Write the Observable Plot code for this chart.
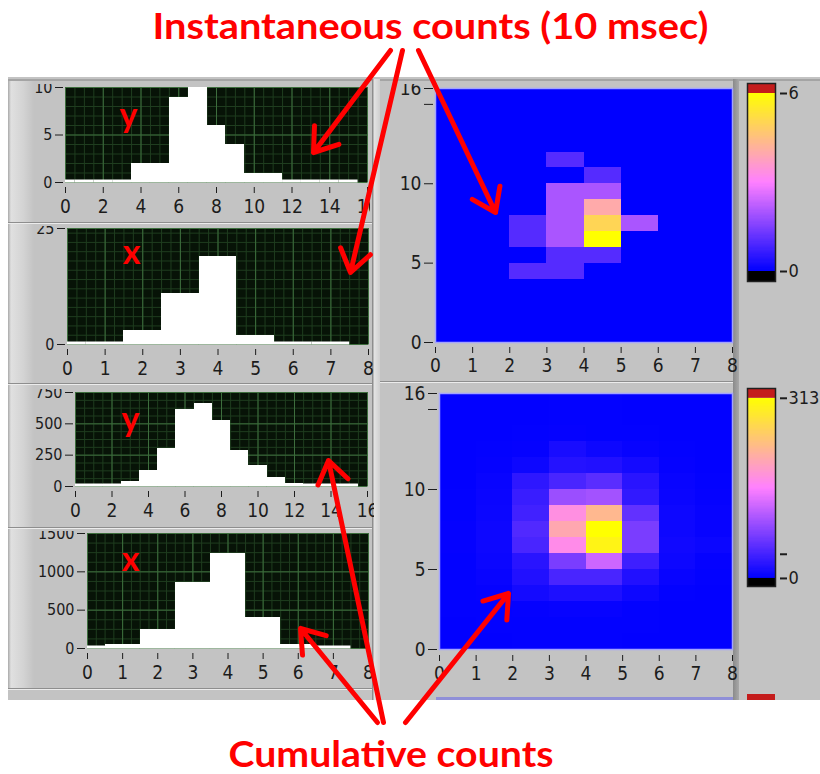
<!DOCTYPE html>
<html><head><meta charset="utf-8">
<script src="https://cdn.jsdelivr.net/npm/d3@7"></script>
<script src="https://cdn.jsdelivr.net/npm/@observablehq/plot@0.6"></script>
<style>
html,body{margin:0;padding:0;background:#fff;}
body{width:820px;height:774px;position:relative;overflow:hidden;}
.d{position:absolute;}
.sep{position:absolute;left:8px;width:364px;height:1px;background:#8e8e8e;border-bottom:1px solid #ececec;}
</style></head><body>
<div class="d" style="left:8px;top:77px;width:812px;height:623px;background:#c3c3c3"></div>
<div class="d" style="left:8px;top:79px;width:812px;height:2px;background:#a4a4a4"></div>
<div class="d" style="left:8px;top:81px;width:26px;height:609px;background:linear-gradient(to right,#a9a9a9 0,#e0e0e0 3px,#d3d3d3 60%,#c3c3c3 100%)"></div>
<div class="sep" style="top:222px"></div>
<div class="sep" style="top:383px"></div>
<div class="sep" style="top:527px"></div>
<div class="sep" style="top:688px"></div>
<div class="d" style="left:372px;top:79px;width:8px;height:621px;background:linear-gradient(to right,#8d8d8d 0,#8d8d8d 1px,#e4e4e4 2px,#cfcfcf 100%)"></div>
<div class="d" style="left:380px;top:381px;width:353px;height:1px;background:#8e8e8e;border-bottom:1px solid #ececec"></div>
<div class="d" style="left:733px;top:79px;width:6px;height:621px;background:linear-gradient(to right,#8a8a8a,#a8a8a8)"></div>
<div class="d" style="left:436px;top:697px;width:297px;height:3px;background:#8f8fd8"></div>
<div class="d" style="left:747px;top:694px;width:28px;height:6px;background:#c41c1c"></div>
<script>
// ---------------- data ----------------
const instYCounts = [0,0,0,0,2,2,9,10,6,4,1,1,0,0,0,0];      // y histogram, 10 ms
const instXCounts = [0,0,3,11,19,2,0,0];                     // x histogram, 10 ms
const cumYCounts  = [13,13,13,40,127,300,618,663,530,286,164,69,27,13,13,13];
const cumXCounts  = [25,55,248,860,1239,400,52,30];

// rows = y 0..15, columns = x 0..7
const instGrid = [
  [0,0,0,0,0,0,0,0],
  [0,0,0,0,0,0,0,0],
  [0,0,0,0,0,0,0,0],
  [0,0,0,0,0,0,0,0],
  [0,0,1,1,0,0,0,0],
  [0,0,0,1,1,0,0,0],
  [0,0,1,2,6,0,0,0],
  [0,0,1,2,5,2,0,0],
  [0,0,0,2,4,0,0,0],
  [0,0,0,2,2,0,0,0],
  [0,0,0,0,1,0,0,0],
  [0,0,0,1,0,0,0,0],
  [0,0,0,0,0,0,0,0],
  [0,0,0,0,0,0,0,0],
  [0,0,0,0,0,0,0,0],
  [0,0,0,0,0,0,0,0]
];
const cumGrid = [
  [1,1,2,2,2,1,1,1],
  [1,2,2,2,2,2,1,1],
  [2,2,3,4,4,2,1,1],
  [2,3,12,18,18,8,2,1],
  [2,5,20,45,45,20,5,2],
  [2,7,25,75,125,38,8,3],
  [3,8,45,170,300,75,10,7],
  [3,8,50,205,313,75,8,4],
  [2,7,40,175,225,60,8,4],
  [2,6,35,95,100,30,6,3],
  [1,5,28,45,55,25,5,2],
  [1,3,8,22,20,12,3,1],
  [1,2,3,15,8,4,2,1],
  [1,1,2,3,2,2,1,1],
  [1,1,1,2,2,1,1,1],
  [1,1,1,2,2,1,1,1]
];
const instMax = 6, cumMax = 313;

const ticks16 = [0,2,4,6,8,10,12,14,16];
const ticks8 = [0,1,2,3,4,5,6,7,8];
const heatYTicks = [0,5,10,15,16];

const annotations = [
  {text:"Instantaneous counts (10 msec)", x:152, y:38, w:556},
  {text:"Cumulative counts", x:228, y:766, w:325}
];
const arrows = [
  {x1:390,y1:50,x2:313,y2:152},
  {x1:402,y1:50,x2:350,y2:272},
  {x1:418,y1:50,x2:495,y2:212},
  {x1:383,y1:722,x2:328,y2:460},
  {x1:377,y1:722,x2:300,y2:628},
  {x1:405,y1:722,x2:508,y2:593}
];

// ---------------- helpers ----------------
const FONT = '"Liberation Sans Narrow","DejaVu Sans Condensed","Roboto",sans-serif';
const BIG = 'Lato,"Open Sans",sans-serif';
const fmt = d => String(d);
function place(el, left, top, z=1) {
  el.style.position = "absolute"; el.style.left = left + "px"; el.style.top = top + "px"; el.style.zIndex = z;
  document.body.appendChild(el);
}
const step = (a, b, s) => d3.range(a, b + s / 2, s);

function hist(o) {
  const bins = o.values.map((v, i) => ({x1: Math.max(0, i - 0.5), x2: Math.min(o.xmax, i + 0.5), v}));
  return Plot.plot({
    width: o.width, height: o.height,
    marginTop: o.mt, marginRight: o.mr, marginBottom: o.mb, marginLeft: o.ml,
    style: {background: "transparent", fontFamily: FONT, color: "#1c1c1c"},
    x: {domain: [0, o.xmax], label: null},
    y: {domain: [0, o.ymax], label: null},
    marks: [
      Plot.frame({fill: "#071307", stroke: "none"}),
      Plot.gridX(step(0, o.xmax, o.xminor), {stroke: "#1f3d1f", strokeOpacity: 1}),
      Plot.gridY(step(0, o.ymax, o.yminor), {stroke: "#1f3d1f", strokeOpacity: 1}),
      Plot.gridX(o.xticks, {stroke: "#3d6e3d", strokeOpacity: 1}),
      Plot.gridY(o.yticks, {stroke: "#3d6e3d", strokeOpacity: 1}),
      Plot.rectY(bins, {x1: "x1", x2: "x2", y1: 0, y2: "v", fill: "white", shapeRendering: "crispEdges"}),
      Plot.ruleY(bins, {x1: "x1", x2: "x2", y: 0, stroke: "white", strokeWidth: 3, dy: -1.5}),
      Plot.axisX(o.xticks, {label: null, tickFormat: fmt, tickSize: 6, dy: 5, tickPadding: 6, fontSize: 19}),
      Plot.axisY(o.yticks, {label: null, tickFormat: fmt, tickSize: 8, dx: -2, tickPadding: 3, fontSize: 16}),
      Plot.text([o.label], {frameAnchor: "top-left", dx: o.ldx, dy: o.ldy, text: d => d, textAnchor: "middle",
        lineAnchor: "bottom", fill: "#ff0000", fontSize: 34, fontWeight: "bold", fontFamily: BIG})
    ]
  });
}

function colorScale(max) {
  return {type: "linear", domain: [0, max / 2, max], range: ["#0000ff", "#ff80ff", "#ffff00"], interpolate: "rgb"};
}

function heat(o) {
  const cells = [];
  o.grid.forEach((row, j) => row.forEach((v, i) => cells.push({i, j, v})));
  return Plot.plot({
    width: o.width, height: o.height,
    marginTop: o.mt, marginRight: o.mr, marginBottom: o.mb, marginLeft: o.ml,
    style: {background: "transparent", fontFamily: FONT, color: "#1c1c1c"},
    x: {domain: [0, 8], label: null},
    y: {domain: [0, 16], label: null},
    color: colorScale(o.max),
    marks: [
      Plot.frame({fill: "#0000ff", stroke: "none"}),
      Plot.rect(cells, {x1: "i", x2: d => d.i + 1, y1: "j", y2: d => d.j + 1, fill: "v", shapeRendering: "crispEdges"}),
      Plot.frame({stroke: "#a4a4ff", strokeWidth: 1.5}),
      Plot.axisX(ticks8, {label: null, tickFormat: fmt, tickSize: 6, dy: o.xdy, tickPadding: 5, fontSize: 19}),
      Plot.axisY(heatYTicks, {label: null, tickSize: 9, dx: -2, tickPadding: 3, fontSize: 19, tickFormat: d => d === 15 ? "" : String(d)})
    ]
  });
}

function colorbar(o) {
  const n = 150;
  const slices = d3.range(n).map(k => ({a: o.max * k / n, b: o.max * (k + 1) / n}));
  return Plot.plot({
    width: 90, height: 215, marginTop: 8, marginBottom: 9, marginLeft: 17, marginRight: 45,
    style: {background: "transparent", fontFamily: FONT, color: "#1c1c1c"},
    x: {domain: [0, 1], axis: null},
    y: {domain: o.domain, axis: null},
    color: colorScale(o.max),
    marks: [
      Plot.rect(slices, {x1: 0, x2: 1, y1: "a", y2: "b", fill: d => (d.a + d.b) / 2, shapeRendering: "crispEdges"}),
      Plot.rect([o.domain], {x1: 0, x2: 1, y1: d => d[0], y2: 0, fill: "black"}),
      Plot.rect([o.domain], {x1: 0, x2: 1, y1: o.max, y2: d => d[1], fill: "#c41c1c"}),
      Plot.frame({stroke: "#202020", strokeWidth: 1.5}),
      Plot.axisY(o.ticks, {anchor: "right", label: null, tickSize: 7, dx: 4, tickPadding: 2, fontSize: 18, strokeWidth: 2,
        tickFormat: d => o.labels.includes(d) ? String(d) : ""})
    ]
  });
}

// ---------------- histograms ----------------
place(hist({values: instYCounts, xmax: 16, ymax: 10, xticks: ticks16, yticks: [0,5,10], xminor: 0.5, yminor: 1,
  width: 362, height: 138, mt: 3, mr: 3, mb: 40, ml: 57, label: "y", ldx: 63, ldy: 39}), 8, 84);
place(hist({values: instXCounts, xmax: 8, ymax: 25, xticks: ticks8, yticks: [0,25], xminor: 0.25, yminor: 2,
  width: 366, height: 155, mt: 2, mr: 6, mb: 37, ml: 59, label: "x", ldx: 64, ldy: 35}), 8, 226);
place(hist({values: cumYCounts, xmax: 16, ymax: 750, xticks: ticks16, yticks: [0,250,500,750], xminor: 0.5, yminor: 62.5,
  width: 366, height: 137, mt: 3, mr: 7, mb: 40, ml: 67, label: "y", ldx: 55, ldy: 38}), 8, 389);
place(hist({values: cumXCounts, xmax: 8, ymax: 1500, xticks: ticks8, yticks: [0,500,1000,1500], xminor: 0.25, yminor: 125,
  width: 366, height: 156, mt: 2, mr: 6, mb: 39, ml: 79, label: "x", ldx: 43, ldy: 37}), 8, 531);

// ---------------- heatmaps ----------------
place(heat({grid: instGrid, max: instMax, width: 360, height: 296, mt: 4, mr: 8, mb: 38, ml: 55, xdy: 5}), 380, 84);
place(heat({grid: cumGrid, max: cumMax, width: 360, height: 304, mt: 7, mr: 8, mb: 41, ml: 59, xdy: 6}), 380, 386);

// ---------------- colour bars ----------------
place(colorbar({max: instMax, domain: [-0.337, 6.337], ticks: [0, 6], labels: [0, 6]}), 730, 75);
place(colorbar({max: cumMax, domain: [-14, 330], ticks: [0, 42, 313], labels: [0, 313]}), 730, 380);

// ---------------- annotation overlay ----------------
const overlay = Plot.plot({
  width: 820, height: 774, margin: 0,
  style: {background: "transparent", pointerEvents: "none"},
  x: {type: "identity"}, y: {type: "identity"},
  marks: [
    Plot.arrow(arrows, {x1: "x1", y1: "y1", x2: "x2", y2: "y2", stroke: "#ff0000", strokeWidth: 5, headLength: 8, headAngle: 70}),
    Plot.text(annotations, {x: "x", y: "y", text: "text", textAnchor: "start", lineAnchor: "bottom",
      fill: "#ff0000", fontSize: 36, fontWeight: "bold", fontFamily: BIG})
  ]
});
place(overlay, 0, 0, 10);
overlay.querySelectorAll('g[aria-label="text"] text').forEach((t, k) => {
  t.setAttribute("textLength", annotations[k].w);
  t.setAttribute("lengthAdjust", "spacingAndGlyphs");
});
</script>
</body></html>
